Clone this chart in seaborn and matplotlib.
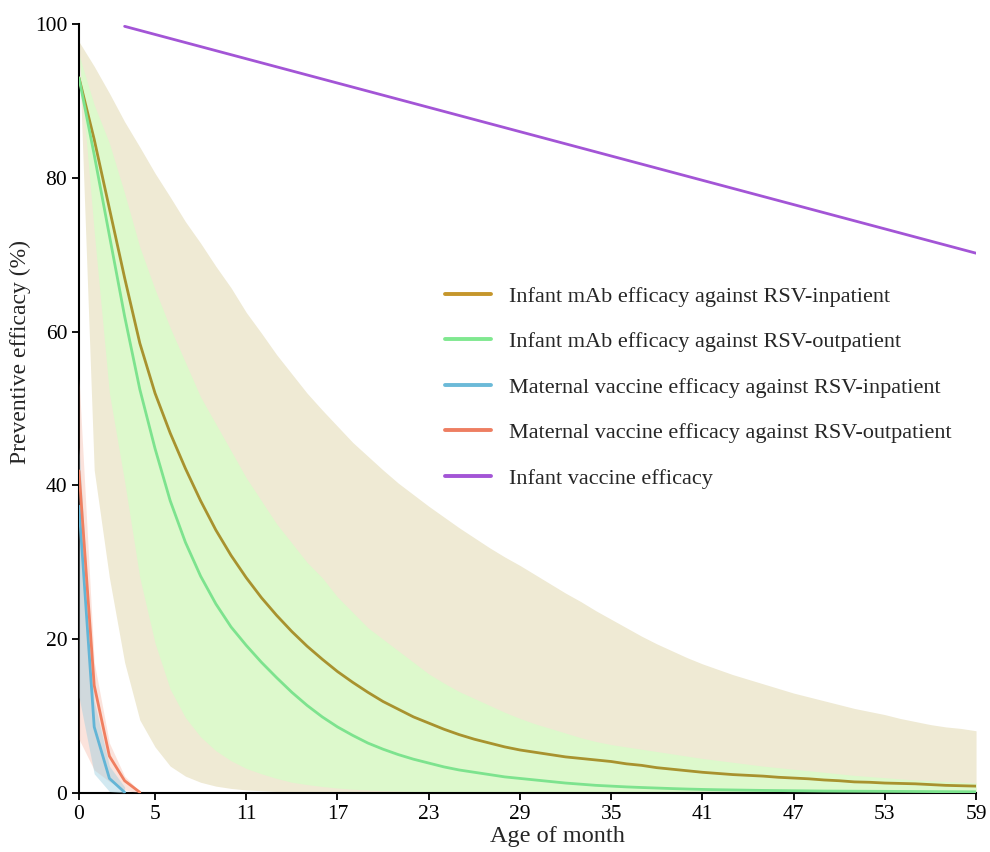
import matplotlib
matplotlib.use("Agg")
import matplotlib.pyplot as plt
from matplotlib.lines import Line2D
import seaborn as sns
import numpy as np

sns.set_style("ticks")
plt.rcParams["font.family"] = ["Liberation Serif", "DejaVu Serif"]

# ---- data ----
months = np.arange(0, 60)

mab_in = [93, 85, 76, 67, 58.5, 52, 46.8, 42.2, 38.0, 34.2, 30.9, 28.0, 25.4, 23.1, 21.0, 19.1,
          17.4, 15.8, 14.4, 13.1, 11.9, 10.9, 9.9, 9.1, 8.3, 7.6, 7.0, 6.5, 6.0, 5.6,
          5.3, 5.0, 4.7, 4.5, 4.3, 4.1, 3.8, 3.6, 3.3, 3.1, 2.9, 2.7, 2.55, 2.4, 2.3,
          2.2, 2.05, 1.95, 1.85, 1.7, 1.6, 1.45, 1.4, 1.3, 1.25, 1.2, 1.1, 1.0, 0.95, 0.9]
mab_in_lo = [97, 42, 28, 17, 9.5, 6, 3.5, 2.2, 1.4, 0.9, 0.6, 0.4, 0.3, 0.2, 0.15, 0.1,
             0.05, 0.03, 0.02, 0.01, 0, 0, 0, 0, 0, 0, 0, 0, 0, 0,
             0, 0, 0, 0, 0, 0, 0, 0, 0, 0, 0, 0, 0, 0, 0,
             0, 0, 0, 0, 0, 0, 0, 0, 0, 0, 0, 0, 0, 0, 0]
mab_in_hi = [97.7, 94.5, 91, 87.3, 84, 80.6, 77.5, 74.3, 71.5, 68.5, 65.7, 62.5, 59.8, 57, 54.5,
             52, 49.8, 47.7, 45.6, 43.8, 42, 40.3, 38.8, 37.3, 35.9, 34.5, 33.2, 31.9, 30.7, 29.6,
             28.4, 27.2, 26, 24.9, 23.7, 22.6, 21.5, 20.4, 19.4, 18.5, 17.6, 16.8, 16.1, 15.4, 14.8,
             14.2, 13.6, 13.0, 12.5, 12.0, 11.5, 11.0, 10.6, 10.2, 9.7, 9.3, 8.9, 8.6, 8.4, 8.1]

mab_out = [93, 83, 72.5, 62, 52.5, 44.8, 38, 32.6, 28.2, 24.6, 21.6, 19.2, 17.0, 15.0, 13.1, 11.4,
           9.9, 8.6, 7.5, 6.5, 5.7, 5.0, 4.4, 3.9, 3.4, 3.0, 2.7, 2.4, 2.1, 1.9,
           1.7, 1.5, 1.3, 1.15, 1.0, 0.9, 0.8, 0.72, 0.65, 0.58, 0.52, 0.47, 0.43, 0.4, 0.37,
           0.34, 0.32, 0.3, 0.28, 0.26, 0.25, 0.24, 0.23, 0.22, 0.21, 0.2, 0.19, 0.18, 0.17, 0.16]
mab_out_lo = [96, 73, 52, 40.5, 28, 19.5, 13.5, 9.8, 7.3, 5.5, 4.2, 3.2, 2.5, 1.9, 1.4, 1.1,
              0.85, 0.65, 0.5, 0.4, 0.3, 0.25, 0.2, 0.16, 0.13, 0.1, 0.08, 0.07, 0.06, 0.05,
              0.04, 0.03, 0.03, 0.02, 0.02, 0.01, 0.01, 0, 0, 0, 0, 0, 0, 0, 0,
              0, 0, 0, 0, 0, 0, 0, 0, 0, 0, 0, 0, 0, 0, 0]
mab_out_hi = [96, 89.5, 84.5, 78, 71, 65.5, 60.5, 56, 51.5, 48, 44.5, 41, 38, 35, 32.5,
              30, 28, 25.5, 23.5, 21.5, 20, 18.5, 17, 15.5, 14.3, 13.2, 12.3, 11.4, 10.5, 9.7,
              9.0, 8.4, 7.8, 7.2, 6.7, 6.3, 6.0, 5.7, 5.4, 5.1, 4.8, 4.5, 4.25, 4.0, 3.75,
              3.5, 3.3, 3.1, 2.9, 2.7, 2.5, 2.3, 2.15, 2.0, 1.85, 1.7, 1.6, 1.5, 1.4, 1.3]

mat_in_x = [0, 1, 2, 3]
mat_in = [37.3, 8.6, 1.9, 0.1]
mat_in_lo = [12.5, 2.5, 0.2, 0]
mat_in_hi = [45, 12, 3.5, 0.8]

mat_out_x = [0, 1, 2, 3, 4]
mat_out = [41.9, 14, 4.8, 1.6, 0.1]
mat_out_lo = [7, 3, 1.5, 0.4, 0]
mat_out_hi = [54, 17, 6.5, 2.2, 0.2]

vac_x = [3, 59]
vac = [99.7, 70.2]

labels = ["Infant mAb efficacy against RSV-inpatient",
          "Infant mAb efficacy against RSV-outpatient",
          "Maternal vaccine efficacy against RSV-inpatient",
          "Maternal vaccine efficacy against RSV-outpatient",
          "Infant vaccine efficacy"]
legend_colors = ["#C5962B", "#80E890", "#6BBAD8", "#EE7E62", "#A355D6"]

# ---- plot ----
fig, ax = plt.subplots(figsize=(9.9, 8.52), dpi=100)
fig.subplots_adjust(left=0.0798, right=0.9859, bottom=0.0692, top=0.9718)

ax.fill_between(months, mab_in_lo, mab_in_hi, color="#EFEAD4", lw=0, zorder=1)
ax.fill_between(months, mab_out_lo, mab_out_hi, color="#DDF9CC", lw=0, zorder=2)
ax.fill_between(mat_out_x, mat_out_lo, mat_out_hi, color="#F4A48C", alpha=0.3, lw=0, zorder=3)
ax.fill_between(mat_in_x, mat_in_lo, mat_in_hi, color="#9CCFE0", alpha=0.45, lw=0, zorder=3)

sns.lineplot(x=months, y=mab_in, color="#A8922E", linewidth=2, ax=ax, zorder=4)
sns.lineplot(x=months, y=mab_out, color="#7DE38E", linewidth=2, ax=ax, zorder=4)
sns.lineplot(x=mat_in_x, y=mat_in, color="#63B5D6", linewidth=2, ax=ax, zorder=5)
sns.lineplot(x=mat_out_x, y=mat_out, color="#F07F60", linewidth=2, ax=ax, zorder=5)
sns.lineplot(x=vac_x, y=vac, color="#A355D6", linewidth=2, ax=ax, zorder=5)

ax.set_xlim(0, 59)
ax.set_ylim(0, 100)
ax.set_xticks([0, 5, 11, 17, 23, 29, 35, 41, 47, 53, 59])
ax.set_yticks([0, 20, 40, 60, 80, 100])
ax.tick_params(labelsize=15.5, direction="out", length=5, width=1.3, colors="black")
ax.set_xlabel("Age of month", fontsize=17.5)
ax.set_ylabel("Preventive efficacy (%)", fontsize=17)
ax.xaxis.set_label_coords(0.533, -0.043)
ax.yaxis.set_label_coords(-0.054, 0.573)
sns.despine(ax=ax)
for s in ["left", "bottom"]:
    ax.spines[s].set_linewidth(1.5)
    ax.spines[s].set_color("black")

handles = [Line2D([0], [0], color=c, lw=2.8) for c in legend_colors]
ax.legend(handles, labels, loc="upper left", bbox_to_anchor=(0.4075, 0.659),
          frameon=False, fontsize=16, handlelength=2.1, handletextpad=0.8,
          labelspacing=1.12, borderpad=0, borderaxespad=0)

plt.savefig("out.png", dpi=100)
